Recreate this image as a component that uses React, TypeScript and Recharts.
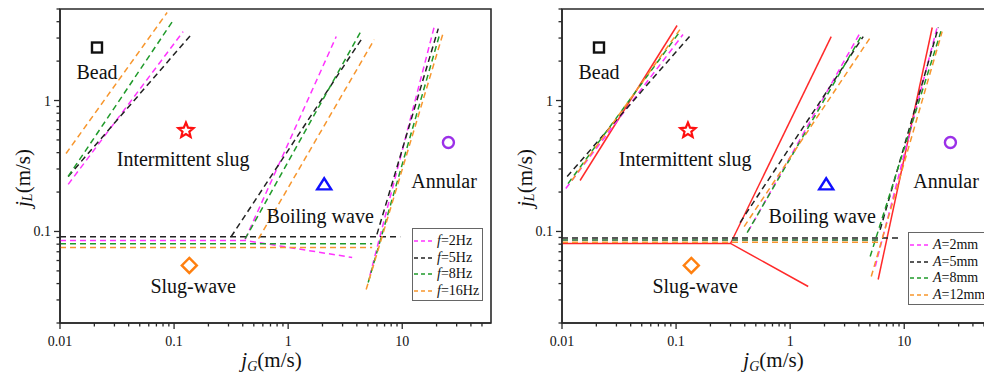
import { ComposedChart, Line, Scatter, XAxis, YAxis, ReferenceArea, Legend } from "recharts";

type Pt = { x: number; y: number };
const P = (x: number, y: number): Pt => ({ x, y });

// axis ticks (log scale, minor ticks unlabeled)
const xTicks = [
  0.01, 0.02, 0.03, 0.04, 0.05, 0.06, 0.07, 0.08, 0.09,
  0.1, 0.2, 0.3, 0.4, 0.5, 0.6, 0.7, 0.8, 0.9,
  1, 2, 3, 4, 5, 6, 7, 8, 9,
  10, 20, 30, 40, 50,
];
const yTicks = [
  0.02, 0.03, 0.04, 0.05, 0.06, 0.07, 0.08, 0.09,
  0.1, 0.2, 0.3, 0.4, 0.5, 0.6, 0.7, 0.8, 0.9,
  1, 2, 3, 4, 5,
];

// flow regimes: marker point + label point
const regimes = ["Bead", "Intermittent slug", "Boiling wave", "Annular", "Slug-wave"];
const markerX = [0.0211, 0.127, 2.07, 25.4, 0.136];
const markerY = [2.54, 0.59, 0.229, 0.478, 0.055];
const labelX = [0.0211, 0.12, 1.91, 23.3, 0.147];
const labelY = [1.64, 0.355, 0.132, 0.241, 0.038];

// left panel: transition boundaries for each frequency
const freqs = [2, 5, 8, 16];
const freqLines: Pt[][][] = [
  [ // 2Hz
    [P(0.0118, 0.229), P(0.12, 3.36)],
    [P(0.42, 0.087), P(2.64, 3.08)],
    [P(0.01, 0.0854), P(0.42, 0.0854), P(3.64, 0.0633)],
    [P(5.2, 0.046), P(19.1, 3.67)],
  ],
  [ // 5Hz
    [P(0.0118, 0.263), P(0.144, 3.25)],
    [P(0.01, 0.0911), P(9.6, 0.0911)],
    [P(0.316, 0.0911), P(4.55, 3.08)],
    [P(6.0, 0.095), P(20.7, 3.54)],
  ],
  [ // 8Hz
    [P(0.0118, 0.263), P(0.098, 4.08)],
    [P(0.01, 0.0805), P(5.45, 0.0805)],
    [P(0.42, 0.088), P(4.28, 3.3)],
    [P(5.03, 0.0408), P(21.5, 3.3)],
  ],
  [ // 16Hz
    [P(0.0113, 0.394), P(0.0869, 4.7)],
    [P(0.01, 0.0755), P(5.45, 0.0755)],
    [P(0.55, 0.088), P(5.68, 2.92)],
    [P(4.83, 0.036), P(22.9, 3.3)],
  ],
];

// right panel: transition boundaries for each amplitude
const amps = [2, 5, 8, 12];
const ampLines: Pt[][][] = [
  [ // 2mm
    [P(0.0108, 0.213), P(0.115, 3.19)],
    [P(0.01, 0.0859), P(5.9, 0.0859)],
    [P(0.428, 0.1), P(4.11, 3.3)],
    [P(5.57, 0.054), P(19.5, 3.67)],
  ],
  [ // 5mm
    [P(0.0111, 0.263), P(0.133, 3.13)],
    [P(0.01, 0.0892), P(9.2, 0.0892)],
    [P(0.364, 0.117), P(4.37, 3.08)],
    [P(6.15, 0.103), P(19.9, 3.61)],
  ],
  [ // 8mm
    [P(0.0113, 0.232), P(0.108, 3.36)],
    [P(0.01, 0.0859), P(5.9, 0.0859)],
    [P(0.42, 0.098), P(4.28, 3.19)],
    [P(5.03, 0.0645), P(21.1, 3.42)],
  ],
  [ // 12mm
    [P(0.0122, 0.245), P(0.108, 3.48)],
    [P(0.01, 0.0828), P(5.9, 0.0828)],
    [P(0.395, 0.109), P(5.03, 3.02)],
    [P(5.14, 0.0453), P(21.5, 3.36)],
  ],
];

// static (no vibration) boundaries, right panel
const staticLines: Pt[][] = [
  [P(0.0144, 0.245), P(0.102, 3.74)],
  [P(0.01, 0.081), P(0.3, 0.081), P(1.44, 0.038)],
  [P(0.3, 0.081), P(2.29, 3.08)],
  [P(5.91, 0.043), P(17.6, 3.61)],
];

const colors = ["#ff33ff", "#222222", "#1f9a2a", "#f7962d"];
const FONT = "'Liberation Serif', 'Times New Roman', serif";
const AXIS = "#2a2a2a";

const isMajor = (v: number) => Math.abs(Math.log10(v) - Math.round(Math.log10(v))) < 1e-9;

const XTick = (props: any) => {
  const { x, y, payload } = props;
  const major = isMajor(payload.value);
  return (
    <g>
      <line x1={x} x2={x} y1={y} y2={y + (major ? 6 : 3.5)} stroke={AXIS} strokeWidth={1.3} />
      {major && (
        <text x={x} y={y + 23} textAnchor="middle" fontSize={14} fontFamily={FONT} fill="#111">
          {String(payload.value)}
        </text>
      )}
    </g>
  );
};

const YTick = (props: any) => {
  const { x, y, payload } = props;
  const major = isMajor(payload.value);
  return (
    <g>
      <line x1={x - (major ? 6 : 3.5)} x2={x} y1={y} y2={y} stroke={AXIS} strokeWidth={1.3} />
      {major && (
        <text x={x - 9} y={y + 5} textAnchor="end" fontSize={14} fontFamily={FONT} fill="#111">
          {String(payload.value)}
        </text>
      )}
    </g>
  );
};

const XTitle = ({ viewBox }: any) => (
  <text x={viewBox.x + viewBox.width / 2 - 4} y={viewBox.y + 44} textAnchor="middle" fontSize={21} fontFamily={FONT} fill="#111">
    <tspan fontStyle="italic">j</tspan>
    <tspan fontStyle="italic" fontSize={14} dy={4}>G</tspan>
    <tspan dy={-4}>(m/s)</tspan>
  </text>
);

const YTitle = ({ viewBox }: any) => {
  const cx = viewBox.x + 23;
  const cy = viewBox.y + viewBox.height / 2 + 12;
  return (
    <text x={cx} y={cy} transform={`rotate(-90, ${cx}, ${cy})`} textAnchor="middle" dominantBaseline="central" fontSize={21} fontFamily={FONT} fill="#111">
      <tspan fontStyle="italic">j</tspan>
      <tspan fontStyle="italic" fontSize={14} dy={4}>L</tspan>
      <tspan dy={-4}>(m/s)</tspan>
    </text>
  );
};

const starPath = (cx: number, cy: number, R: number, r: number) => {
  const pts: string[] = [];
  for (let i = 0; i < 10; i++) {
    const a = -Math.PI / 2 + (i * Math.PI) / 5;
    const rad = i % 2 === 0 ? R : r;
    pts.push(`${cx + rad * Math.cos(a)},${cy + rad * Math.sin(a)}`);
  }
  return `M${pts.join("L")}Z`;
};

const RegimeMark = (p: any) => {
  const { cx, cy, payload } = p;
  switch (payload.name) {
    case "Bead":
      return <rect x={cx - 5} y={cy - 5} width={10} height={10} fill="none" stroke="#111" strokeWidth={2.4} />;
    case "Intermittent slug":
      return <path d={starPath(cx, cy, 8, 3.6)} fill="none" stroke="#ff1010" strokeWidth={2.2} strokeLinejoin="miter" />;
    case "Boiling wave":
      return <path d={`M${cx - 7},${cy + 5}L${cx + 7},${cy + 5}L${cx},${cy - 6}Z`} fill="none" stroke="#1010ff" strokeWidth={2.4} />;
    case "Annular":
      return <circle cx={cx} cy={cy} r={5.5} fill="none" stroke="#9b30e8" strokeWidth={2.4} />;
    default:
      return <path d={`M${cx},${cy - 7.5}L${cx + 7.5},${cy}L${cx},${cy + 7.5}L${cx - 7.5},${cy}Z`} fill="none" stroke="#ff8010" strokeWidth={2.4} />;
  }
};

const RegimeText = (p: any) => (
  <text x={p.cx} y={p.cy} textAnchor="middle" dominantBaseline="central" fontSize={20} fontFamily={FONT} fill="#111">
    {p.payload.name}
  </text>
);

const markerData = regimes.map((name, i) => ({ name, x: markerX[i], y: markerY[i] }));
const labelData = regimes.map((name, i) => ({ name, x: labelX[i], y: labelY[i] }));

const LegendBox = ({ symbol, unit, values }: { symbol: string; unit: string; values: number[] }) => (
  <div style={{ border: "1px solid #666", background: "#fff", padding: "4px 3px 1px 1px", fontFamily: FONT, fontSize: 14, color: "#111" }}>
    {values.map((v, i) => (
      <div key={v} style={{ display: "flex", alignItems: "center", height: 16.5, whiteSpace: "nowrap" }}>
        <svg width={21} height={6} style={{ marginRight: 2 }}>
          <line x1={0} x2={21} y1={3} y2={3} stroke={colors[i]} strokeWidth={1.5} strokeDasharray="4 3" />
        </svg>
        <i>{symbol}</i>={v}{unit}
      </div>
    ))}
  </div>
);

type PanelProps = {
  lines: Pt[][][];
  model?: Pt[][];
  symbol: string;
  unit: string;
  values: number[];
  legendLeft: number;
  legendTop: number;
};

const Panel = ({ lines, model, symbol, unit, values, legendLeft, legendTop }: PanelProps) => (
  <ComposedChart width={500} height={374} margin={{ top: 9, right: 9, bottom: 0, left: 0 }}>
    <XAxis
      type="number" dataKey="x" scale="log" domain={[0.01, 60]} allowDataOverflow
      ticks={xTicks} interval={0} tickSize={0} tickMargin={0} tick={<XTick />}
      height={51} stroke={AXIS} strokeWidth={1.5} label={XTitle}
    />
    <YAxis
      type="number" dataKey="y" scale="log" domain={[0.02, 5]} allowDataOverflow
      ticks={yTicks} interval={0} tickSize={0} tickMargin={0} tick={<YTick />}
      width={60} stroke={AXIS} strokeWidth={1.5} label={YTitle}
    />
    <ReferenceArea x1={0.01} x2={60} y1={0.02} y2={5} fill="none" stroke={AXIS} strokeWidth={1.6} />
    {model && model.map((seg, j) => (
      <Line key={`m${j}`} data={seg} dataKey="y" stroke="#ff2a2a" strokeWidth={1.5} dot={false} isAnimationActive={false} legendType="none" />
    ))}
    {lines.map((group, i) =>
      group.map((seg, j) => (
        <Line key={`${i}-${j}`} data={seg} dataKey="y" stroke={colors[i]} strokeWidth={1.5} strokeDasharray="6 4" dot={false} isAnimationActive={false} legendType="none" />
      ))
    )}
    <Scatter data={markerData} dataKey="y" shape={RegimeMark} isAnimationActive={false} legendType="none" />
    <Scatter data={labelData} dataKey="y" shape={RegimeText} isAnimationActive={false} legendType="none" />
    <Legend
      layout="vertical" align="center" verticalAlign="middle"
      wrapperStyle={{ left: legendLeft, top: legendTop, width: "auto", height: "auto" }}
      content={() => <LegendBox symbol={symbol} unit={unit} values={values} />}
    />
  </ComposedChart>
);

export default function App() {
  return (
    <div style={{ position: "fixed", left: 0, top: 0, width: 984, height: 374, overflow: "hidden", background: "#fff", fontFamily: FONT }}>
      <div style={{ position: "absolute", left: 0, top: 0 }}>
        <Panel lines={freqLines} symbol="f" unit="Hz" values={freqs} legendLeft={412} legendTop={228} />
      </div>
      <div style={{ position: "absolute", left: 502, top: 0 }}>
        <Panel lines={ampLines} model={staticLines} symbol="A" unit="mm" values={amps} legendLeft={406} legendTop={232} />
      </div>
    </div>
  );
}
